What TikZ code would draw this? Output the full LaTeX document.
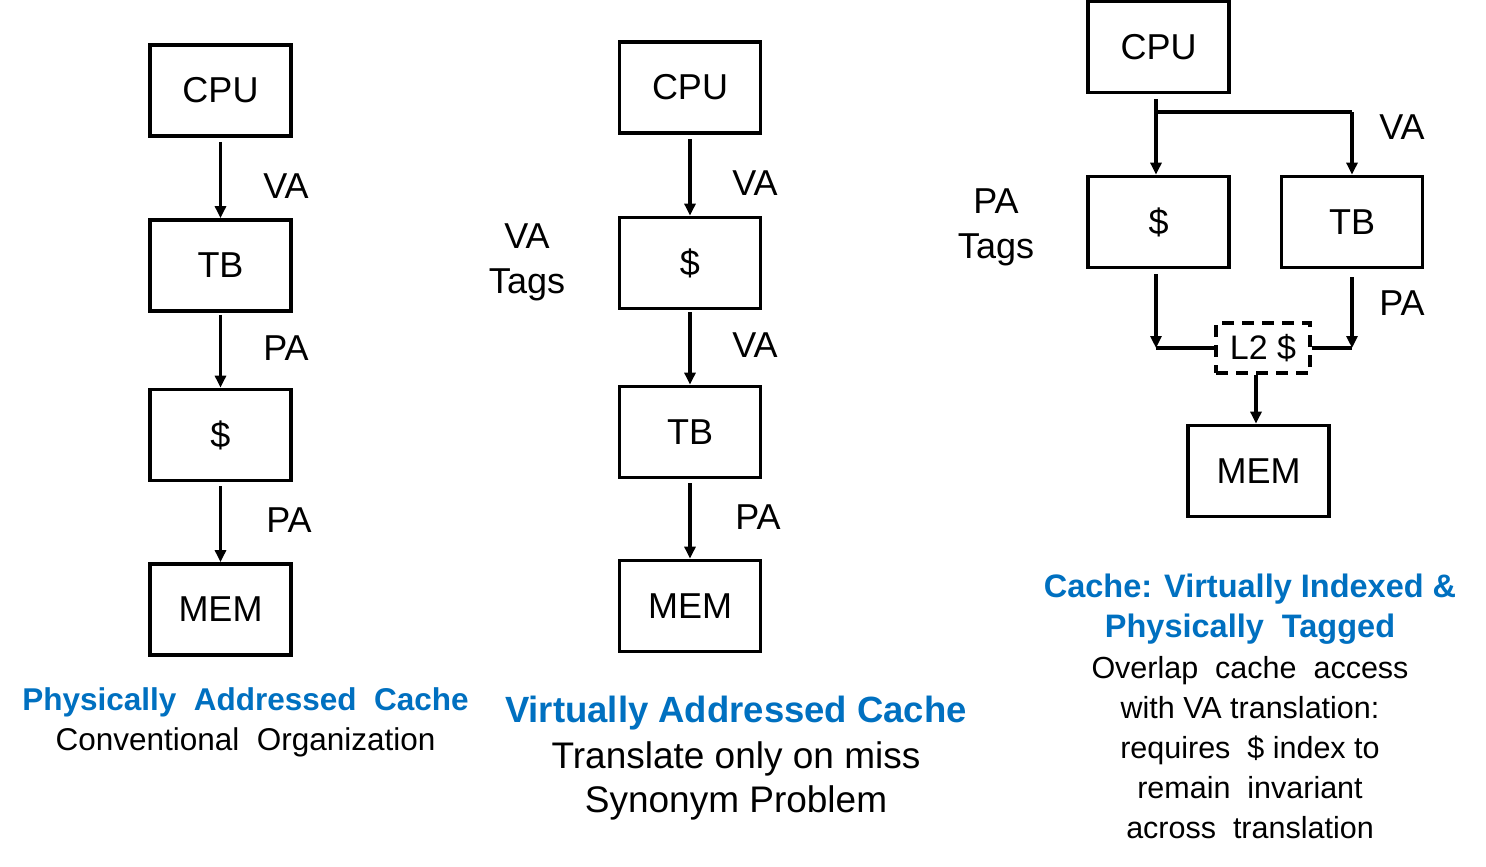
\documentclass[tikz,border=0pt]{standalone}
\usepackage{fontspec}
\setmainfont{Liberation Sans}
\usetikzlibrary{arrows.meta}
\definecolor{titleblue}{HTML}{0070C0}
\begin{document}
\begin{tikzpicture}[x=1pt,y=-1pt,
  blk/.style={draw, line width=3.8pt, minimum width=141pt, minimum height=91pt, inner sep=0pt, font=\fontsize{36}{40}\selectfont},
  lab/.style={font=\fontsize{36}{45}\selectfont, align=center, inner sep=0pt},
  arr/.style={line width=3.3pt, -{Triangle[length=12pt,width=11pt]}},
  wire/.style={line width=3.3pt},
  ttl/.style={text=titleblue, font=\bfseries\fontsize{31.5}{40}\selectfont, align=center, inner sep=0pt},
  body/.style={font=\fontsize{31.5}{40}\selectfont, align=center, inner sep=0pt}]
\useasboundingbox (0,0) rectangle (1486,867);

% ---- left: physically addressed
\node[blk] (cpu1) at (220.5,90.5) {CPU};
\node[blk] (tb1)  at (220.5,265.5) {TB};
\node[blk] (c1)   at (220.5,435) {\$};
\node[blk] (mem1) at (220.5,609.5) {MEM};
\draw[arr, shorten <=4pt] (cpu1) -- (tb1);
\draw[arr, shorten <=2pt] (tb1) -- (c1);
\draw[arr, shorten <=4pt] (c1) -- (mem1);
\node[lab] (va1) at (286,186) {VA};
\node[lab] (pa1) at (286,348) {PA};
\node[lab] (pa2) at (289,520) {PA};
\node[ttl] (t1) at (245.5,702) {Physically\ \ Addressed\ \ Cache};
\node[body] (b1) at (245.5,742) {Conventional\ \ Organization};

% ---- middle: virtually addressed
\node[blk] (cpu2) at (690,87.5) {CPU};
\node[blk] (c2)   at (690,263) {\$};
\node[blk] (tb2)  at (690,432) {TB};
\node[blk] (mem2) at (690,606) {MEM};
\draw[arr, shorten <=4pt] (cpu2) -- (c2);
\draw[arr, shorten <=2pt] (c2) -- (tb2);
\draw[arr, shorten <=4pt] (tb2) -- (mem2);
\node[lab] (va2) at (755,183) {VA};
\node[lab] (va3) at (755,345) {VA};
\node[lab] (pa3) at (758,517) {PA};
\node[lab] (vatags) at (527,262) {VA\\Tags};
\node[ttl, font=\bfseries\fontsize{36.5}{40}\selectfont] (t2) at (736,713) {Virtually Addressed Cache};
\node[body, font=\fontsize{37}{44}\selectfont] (b2) at (736,781) {Translate only on miss\\Synonym Problem};

% ---- right: virtually indexed, physically tagged
\node[blk] (cpu3) at (1158.5,47) {CPU};
\node[blk] (c3)   at (1158.5,222) {\$};
\node[blk] (tb3)  at (1352,222) {TB};
\node[blk] (mem3) at (1258.5,471) {MEM};
\node[draw, dashed, dash pattern=on 12pt off 8pt, line width=3.8pt, minimum width=94pt, minimum height=50pt, inner sep=0pt, font=\fontsize{34}{40}\selectfont] (l2) at (1263,348) {L2 \$};
\coordinate (br) at (1156,112);
\draw[wire] ([yshift=-5pt]cpu3.south -| br) -- (br) -- (br -| tb3.north);
\draw[arr] (br) -- (br |- c3.north);
\draw[arr] (br -| tb3.north) -- (tb3.north);
\draw[arr] ([yshift=-5pt]c3.south -| br) -- (br |- l2.west);
\draw[wire] (l2.west) -- (br |- l2.west);
\draw[arr] ([yshift=-8pt]tb3.south) -- (tb3.south |- l2.east);
\draw[wire] (l2.east) -- (tb3.south |- l2.east);
\draw[arr] (l2.south -| 1256,0) -- (mem3.north -| 1256,0);
\node[lab] (va4) at (1402,127) {VA};
\node[lab] (pa4) at (1402,303) {PA};
\node[lab] (patags) at (996,227) {PA\\Tags};
\node[ttl, font=\bfseries\fontsize{32.5}{40}\selectfont] (t3) at (1250,609) {Cache: Virtually Indexed \&\\Physically\ \ Tagged};
\node[body, font=\fontsize{30.5}{40}\selectfont] (b3) at (1250,748) {Overlap\ \ cache\ \ access\\with VA translation:\\requires\ \ \$ index to\\remain\ \ invariant\\across\ \ translation};
\end{tikzpicture}
\end{document}
